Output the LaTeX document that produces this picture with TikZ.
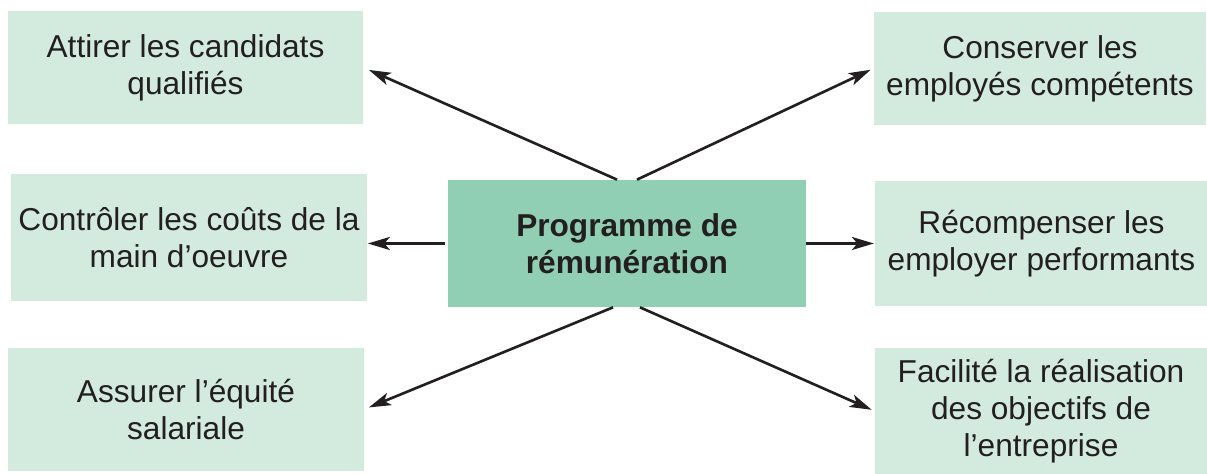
\documentclass[tikz,border=0pt]{standalone}
\usepackage{fontspec}
\setmainfont{Liberation Sans}
\usepackage{xcolor}
\usepackage{tikz}
\usetikzlibrary{arrows.meta}

\definecolor{goalfill}{HTML}{D3EADF}
\definecolor{corefill}{HTML}{91CFB5}
\definecolor{inkgray}{HTML}{231F20}

\begin{document}
\begin{tikzpicture}[
  box/.style={fill=goalfill,align=center,inner sep=0pt,text=inkgray,
              font=\fontsize{18}{21}\selectfont},
  leftbox/.style={box,minimum width=7.1cm},
  rightbox/.style={box,minimum width=6.65cm},
  core/.style={box,fill=corefill,minimum width=7.16cm,minimum height=2.54cm,
               font=\fontsize{18}{21}\selectfont\bfseries},
  arrow/.style={-{Stealth[length=4.4mm,width=2.6mm,inset=1.1mm]},
                line width=1.5pt,draw=inkgray,shorten >=0.6mm}
]
\useasboundingbox (0,0) rectangle (24.14,9.48);

\node[leftbox,minimum height=2.26cm]  (attract) at (3.71, 8.13) {Attirer les candidats\\qualifiés};
\node[leftbox,minimum height=2.54cm]  (control) at (3.78, 4.73) {Contrôler les coûts de la\\main d’oeuvre};
\node[leftbox,minimum height=2.46cm]  (equity)  at (3.72, 1.29) {Assurer l’équité\\salariale};

\node[core] (prog) at (12.54, 4.61) {Programme de\\rémunération};

\node[rightbox,minimum height=2.26cm] (retain)  at (20.80, 8.11) {Conserver les\\employés compétents};
\node[rightbox,minimum height=2.50cm] (reward)  at (20.83, 4.61) {Récompenser les\\employer performants};
\node[rightbox,minimum height=2.52cm] (goals)   at (20.82, 1.26) {Facilité la réalisation\\des objectifs de\\l’entreprise};

\draw[arrow,shorten >=1.2mm] ([xshift=-2mm]prog.north) -- (attract.east);
\draw[arrow] ([xshift=2mm]prog.north) -- (retain.west);
\draw[arrow,shorten <=0.6mm,shorten >=0.2mm] (prog.west) -- (control.east |- prog.west);
\draw[arrow,shorten >=0.2mm] (prog.east) -- (reward.west);
\draw[arrow,shorten >=1.1mm] ([xshift=-2.8mm]prog.south) -- (equity.east);
\draw[arrow] ([xshift=2.6mm]prog.south) -- (goals.west);
\end{tikzpicture}
\end{document}
